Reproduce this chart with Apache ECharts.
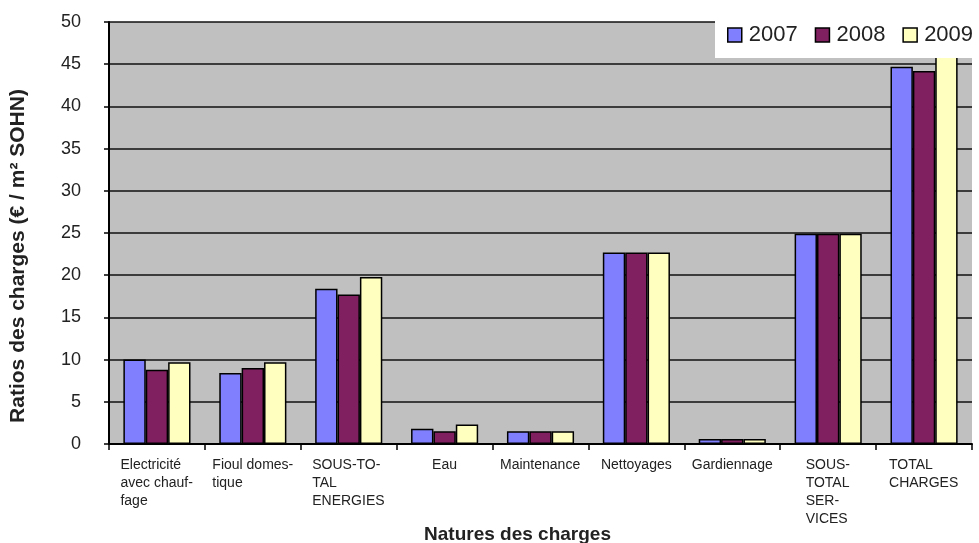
<!DOCTYPE html>
<html>
<head>
<meta charset="utf-8">
<script src="https://cdn.jsdelivr.net/npm/echarts@6/dist/echarts.min.js"></script>
<style>
  html, body { margin: 0; padding: 0; background: #fff; }
  #chart { width: 979px; height: 543px; }
</style>
</head>
<body>
<div id="chart"></div>
<script>
const categories = [
  'Electricité\navec chauf-\nfage',
  'Fioul domes-\ntique',
  'SOUS-TO-\nTAL\nENERGIES',
  'Eau',
  'Maintenance',
  'Nettoyages',
  'Gardiennage',
  'SOUS-\nTOTAL\nSER-\nVICES',
  'TOTAL\nCHARGES'
]
const years = ['2007', '2008', '2009']
const values2007 = [10.0, 8.4, 18.4, 1.8, 1.5, 22.7, 0.6, 24.9, 44.7]
const values2008 = [8.8, 9.0, 17.7, 1.5, 1.5, 22.7, 0.6, 24.9, 44.2]
const values2009 = [9.7, 9.7, 19.8, 2.3, 1.5, 22.7, 0.6, 24.9, 47.5]
const colors = ['#8080ff', '#802060', '#ffffc0']

const font = "'Liberation Sans', Arial, sans-serif"
const chart = echarts.init(document.getElementById('chart'))

const seriesData = [values2007, values2008, values2009]

// lines of each category label are left-aligned inside a centred block,
// so give every label its own rich style with the width of its longest line
const labelFont = '14px ' + font
const ctx = document.createElement('canvas').getContext('2d')
ctx.font = labelFont
const rich = {}
categories.forEach((c, i) => {
  const w = Math.ceil(Math.max(...c.split('\n').map(l => ctx.measureText(l).width)))
  rich['c' + i] = { width: w, align: 'left', fontSize: 14, lineHeight: 18, color: '#222', fontFamily: font }
})

chart.setOption({
  backgroundColor: '#fff',
  animation: false,
  textStyle: { fontFamily: font },
  grid: {
    left: 109, right: 7, top: 22, bottom: 99,
    outerBoundsMode: 'none', containLabel: false,
    show: true, backgroundColor: '#c0c0c0', borderWidth: 0,
  },
  legend: {
    data: years,
    left: 715, top: 14,
    padding: [10, 0, 12, 12],
    backgroundColor: '#fff',
    itemWidth: 14, itemHeight: 14, itemGap: 17,
    icon: 'rect',
    itemStyle: { borderColor: '#000', borderWidth: 1.5 },
    textStyle: { fontFamily: font, fontSize: 22, color: '#222', padding: [0, 0, 0, 2] },
  },
  xAxis: {
    type: 'category', data: categories,
    name: 'Natures des charges', nameLocation: 'middle', nameGap: 81, nameMoveOverlap: false,
    nameTextStyle: { fontFamily: font, fontSize: 19, fontWeight: 'bold', color: '#222', padding: [0, 46, 0, 0] },
    axisLine: { lineStyle: { color: '#000', width: 2 } },
    axisTick: { show: true, length: 6, lineStyle: { color: '#000', width: 1.5 } },
    axisLabel: {
      interval: 0, margin: 12, verticalAlign: 'top', lineHeight: 18, fontSize: 14,
      formatter: (v, i) => v.split('\n').map(l => '{c' + i + '|' + l + '}').join('\n'),
      rich,
    },
  },
  yAxis: {
    type: 'value', min: 0, max: 50, interval: 5,
    name: 'Ratios des charges (€ / m² SOHN)', nameLocation: 'middle', nameGap: 80, nameMoveOverlap: false,
    nameTextStyle: { fontFamily: font, fontSize: 21, fontWeight: 'bold', color: '#222', padding: [0, 46, 0, 0] },
    axisLine: { show: true, lineStyle: { color: '#000', width: 2 } },
    axisTick: { show: true, length: 5, lineStyle: { color: '#000', width: 1.5 } },
    axisLabel: { fontSize: 18, color: '#222', margin: 28 },
    splitLine: { lineStyle: { color: '#111', width: 1.5 } },
  },
  series: years.map((y, i) => ({
    type: 'bar', name: y, data: seriesData[i],
    barGap: '0%', barCategoryGap: '30%',
    itemStyle: { color: colors[i], borderColor: '#000', borderWidth: 1.5 },
  })),
})
</script>
</body>
</html>
